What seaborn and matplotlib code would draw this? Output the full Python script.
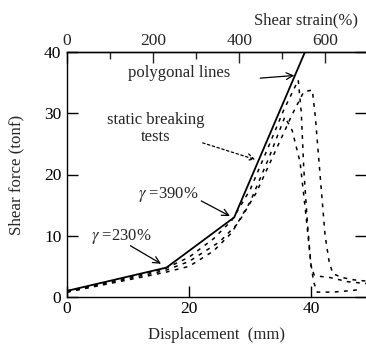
import numpy as np
import pandas as pd
import matplotlib
matplotlib.use("Agg")
import matplotlib.pyplot as plt
import seaborn as sns

# polygonal (design) line
poly_x = [0, 16.3, 27.4, 39.0]
poly_y = [1.0, 4.8, 13.0, 40.0]

# static breaking tests (dashed)
testA_x = [0, 5, 10, 16, 20, 24, 27, 30, 33, 35.5, 37.9, 38.4, 38.8, 39.4, 40.0, 40.5, 41.2, 43, 46, 49]
testA_y = [1.0, 2.0, 3.2, 4.6, 6.5, 9.5, 12.5, 17.5, 24.5, 30.5, 35.4, 30, 21, 12, 5, 3.6, 3.4, 3.2, 2.5, 2.2]
testB_x = [0, 10, 16, 20, 25, 28, 31, 34, 37, 38.8, 40.2, 40.7, 41.5, 42.3, 43.0, 43.6, 45, 47, 49]
testB_y = [0.8, 3.0, 4.3, 5.8, 9.0, 12.0, 17.0, 23.5, 30.0, 33.5, 33.8, 29.4, 19.6, 10, 5.5, 3.8, 3.2, 2.8, 2.6]
testC_x = [0, 10, 16, 20, 24, 27, 30, 33, 35.7, 36.9, 38.2, 39.2, 39.9, 40.4, 41.0, 43.6, 46, 48]
testC_y = [0.8, 2.8, 4.0, 5.0, 7.5, 10.5, 15.5, 22.5, 29.4, 27.2, 22, 13, 6, 2.5, 0.8, 0.8, 1.0, 1.2]

strain_per_mm = 14.17

frames = []
for name, xs, ys in [("poly", poly_x, poly_y), ("A", testA_x, testA_y),
                     ("B", testB_x, testB_y), ("C", testC_x, testC_y)]:
    frames.append(pd.DataFrame({"disp": xs, "force": ys, "curve": name, "order": range(len(xs))}))
df = pd.concat(frames, ignore_index=True)

sns.set_theme(style="ticks")
plt.rcParams["font.family"] = ["Liberation Serif", "DejaVu Serif"]
plt.rcParams["mathtext.fontset"] = "stix"

fig = plt.figure(figsize=(3.66, 3.47), dpi=100)
ax = fig.add_axes([67/366, 1-297/347, 1-67/366, (297-52)/347])

sns.lineplot(data=df[df.curve == "poly"], x="disp", y="force", sort=False,
             color="black", lw=1.3, ax=ax, estimator=None)
for name in ["A", "B", "C"]:
    sns.lineplot(data=df[df.curve == name], x="disp", y="force", sort=False,
                 color="black", lw=1.1, ax=ax, estimator=None,
                 linestyle=(0, (2.5, 3.5)))

ax.set_xlim(0, 49)
ax.set_ylim(0, 40)
ax.set_xticks([0, 20, 40])
ax.set_yticks([0, 10, 20, 30, 40])
ax.tick_params(axis="both", direction="in", labelsize=12.5, length=8, width=1, colors="black")
ax.tick_params(axis="y", right=True, pad=4)
ax.tick_params(axis="x", pad=3)
ax.spines["right"].set_visible(False)
for s in ["left", "bottom", "top"]:
    ax.spines[s].set_linewidth(1.0)
    ax.spines[s].set_color("black")

ax.set_xlabel("Displacement  (mm)", fontsize=12, labelpad=7)
ax.set_ylabel("Shear force (tonf)", fontsize=12.2, labelpad=14)

sec = ax.secondary_xaxis("top", functions=(lambda x: x * strain_per_mm, lambda s: s / strain_per_mm))
sec.set_xticks([0, 200, 400, 600])
sec.set_xticks([100, 300, 500], minor=True)
sec.tick_params(direction="in", labelsize=12.5, length=8, width=1, pad=2)
sec.tick_params(which="minor", direction="in", length=5, width=1)
sec.spines["top"].set_linewidth(1.0)
fig.text(358/366, 1-20/347, "Shear strain(%)", ha="right", va="center", fontsize=12)

# annotations
fs = 12
ax.text(10.0, 36.5, "polygonal lines", fontsize=fs, va="center", ha="left")
ax.annotate("", xy=(37.7, 36.2), xytext=(31.2, 35.7),
            arrowprops=dict(arrowstyle="->", lw=0.9, color="black", mutation_scale=12))
ax.text(14.6, 27.5, "static breaking\ntests", fontsize=fs, ha="center", va="center", linespacing=1.05)
ax.annotate("", xy=(31.3, 22.3), xytext=(21.8, 25.3),
            arrowprops=dict(arrowstyle="->", lw=0.9, color="black", linestyle=(0, (2, 2)),
                            mutation_scale=12))
ax.text(11.6, 16.8, r"$\gamma$ =390%", fontsize=fs, ha="left", va="center")
ax.annotate("", xy=(27.1, 13.0), xytext=(21.6, 15.9),
            arrowprops=dict(arrowstyle="->", lw=0.9, color="black", mutation_scale=12))
ax.text(4.0, 9.8, r"$\gamma$ =230%", fontsize=fs, ha="left", va="center")
ax.annotate("", xy=(15.8, 5.2), xytext=(10.0, 8.6),
            arrowprops=dict(arrowstyle="->", lw=0.9, color="black", mutation_scale=12))

fig.savefig("out.png", dpi=100)
